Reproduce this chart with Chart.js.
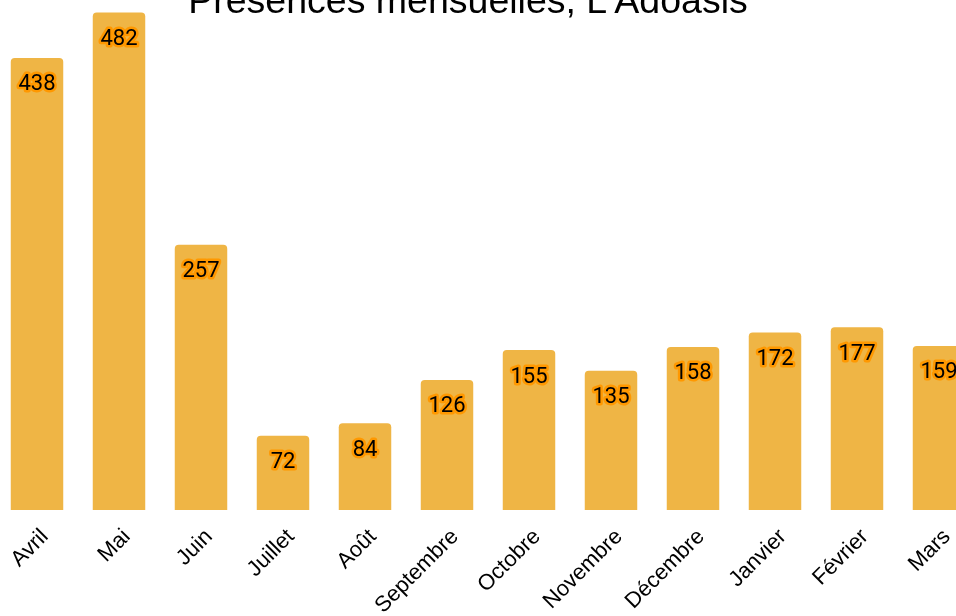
<!DOCTYPE html>
<html>
<head>
<meta charset="utf-8">
<script src="https://cdn.jsdelivr.net/npm/chart.js@4/dist/chart.umd.min.js"></script>
<style>
    html, body { margin: 0; padding: 0; overflow: hidden; background: #fff; }
    #wrap { position: absolute; left: -44.5px; top: -25px; width: 1024px; height: 660px; }
</style>
</head>
<body>
<div id="wrap"><canvas id="barChart"></canvas></div>
<script>
const months = ["Avril", "Mai", "Juin", "Juillet", "Août", "Septembre", "Octobre", "Novembre", "Décembre", "Janvier", "Février", "Mars"];
const presences = [438, 482, 257, 72, 84, 126, 155, 135, 158, 172, 177, 159];
const titleText = "Présences mensuelles, L'Adoasis";

// values written inside the top of each bar
const valueLabels = {
    id: "valueLabels",
    afterDatasetsDraw(chart) {
        let ctx = chart.ctx;
        let meta = chart.getDatasetMeta(0);
        ctx.save();
        ctx.font = "22px Roboto";
        ctx.textAlign = "center";
        ctx.textBaseline = "middle";
        ctx.lineJoin = "round";
        ctx.lineWidth = 5;
        ctx.strokeStyle = "#ff9800";
        ctx.fillStyle = "#000";
        meta.data.forEach((bar, i) => {
            let txt = String(presences[i]);
            ctx.strokeText(txt, bar.x, bar.y + 27);
            ctx.fillText(txt, bar.x, bar.y + 27);
        });
        ctx.restore();
    }
};

document.addEventListener("DOMContentLoaded", () => {
    Chart.defaults.color = "#000";
    Chart.defaults.font.family = "'Liberation Sans', Arial, sans-serif";

    new Chart(document.getElementById("barChart"), {
        type: "bar",
        data: {
            labels: months,
            datasets: [{
                data: presences,
                backgroundColor: "#efb545",
                borderRadius: 4,
                barPercentage: 0.8,
                categoryPercentage: 0.8
            }]
        },
        options: {
            responsive: true,
            maintainAspectRatio: false,
            animation: false,
            plugins: {
                legend: { display: false },
                tooltip: { enabled: false },
                title: {
                    display: true,
                    text: titleText,
                    color: "#000",
                    font: { size: 37.5, weight: "normal" },
                    padding: { top: 5, bottom: -31 }
                }
            },
            scales: {
                x: {
                    grid: { display: false },
                    border: { display: false },
                    ticks: { autoSkip: false, maxRotation: 45, minRotation: 45, padding: 6, labelOffset: 8, font: { size: 22 } },
                    afterFit: (axis) => { axis.height = 125; }
                },
                y: {
                    min: 0,
                    max: 500,
                    grid: { display: false },
                    border: { display: false },
                    ticks: { display: false },
                    afterFit: (axis) => { axis.width = 40; }
                }
            }
        },
        plugins: [valueLabels]
    });
});
</script>
</body>
</html>
